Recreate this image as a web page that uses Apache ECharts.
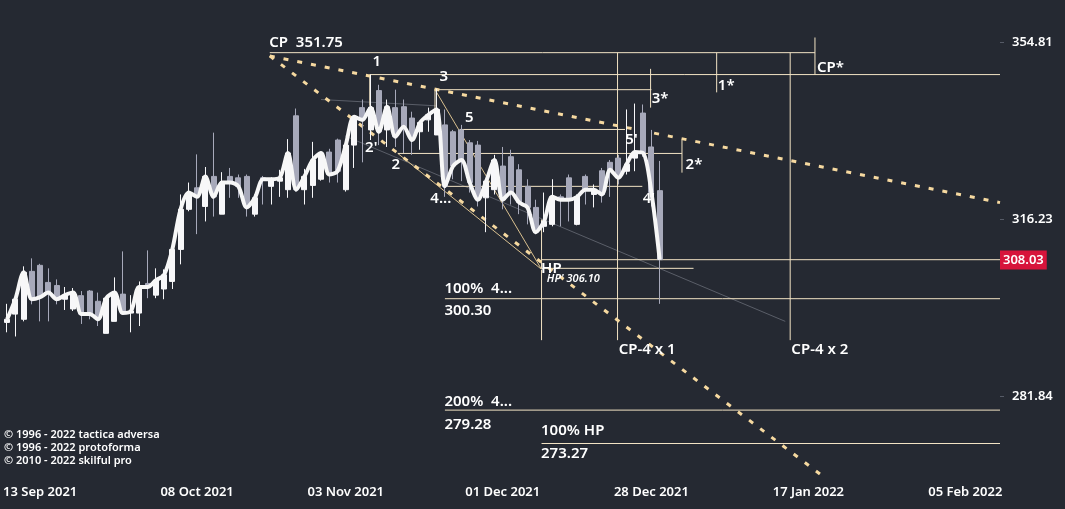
<!DOCTYPE html>
<html><head><meta charset="utf-8">
<script src="https://cdn.jsdelivr.net/npm/echarts@6/dist/echarts.min.js"></script>
<style>html,body{margin:0;padding:0;background:#252932;}#c{width:1065px;height:509px;}</style>
</head><body><div id="c"></div>
<script>
// bar index of first candle (index 0 = 13 Sep 2021)
const startIdx = -4;
// [open, close, low, high]
const ohlc = [
[295.7,296.3,293.8,299.3],[297.3,300.2,293.0,300.8],[296.3,305.5,295.9,306.7],[305.7,300.2,299.2,308.3],
[306.9,300.6,295.9,307.2],[303.5,301.5,295.9,306.3],[302.9,300.2,299.2,304.1],[300.2,301.0,298.1,302.6],
[298.3,301.5,297.9,302.4],[300.9,297.3,295.4,301.8],[301.8,297.3,296.3,302.0],[299.8,296.3,295.0,301.5],
[293.6,300.4,293.6,300.6],[295.9,301.5,295.9,304.5],[301.2,297.5,297.3,309.7],[297.5,297.9,293.8,301.0],
[297.5,302.6,295.0,303.7],[303.3,302.6,300.4,309.9],[301.0,303.9,300.4,306.3],[302.2,305.0,300.2,306.1],
[303.7,310.1,302.2,311.1],[310.1,318.3,307.1,321.4],[318.3,321.8,317.9,323.9],[322.8,320.9,313.2,329.9],
[318.9,325.2,315.8,327.2],[325.2,320.9,316.8,334.6],[317.3,323.9,317.3,326.1],[325.2,323.9,320.7,327.0],
[324.9,323.1,320.7,325.6],[325.2,318.7,316.8,325.6],[317.3,320.7,316.8,321.4],[324.9,324.6,319.3,325.3],
[323.1,324.6,319.3,325.0],[324.2,324.9,320.9,326.6],[322.4,330.2,320.7,333.2],[338.3,322.4,322.0,339.9],
[322.4,325.2,319.3,326.8],[323.3,328.7,320.7,332.6],[324.6,330.2,324.3,330.5],[330.4,325.6,323.9,331.1],
[333.0,326.3,323.9,333.3],[322.4,331.9,322.0,332.3],[331.9,338.1,327.0,338.4],[340.1,337.4,328.2,341.9],
[335.2,340.1,333.0,347.5],[343.9,334.8,331.9,345.2],[335.2,340.3,331.5,341.9],[340.1,333.7,331.5,344.1],
[340.3,335.9,330.2,341.9],[337.8,333.0,329.8,339.2],[334.8,336.8,330.9,337.0],[337.4,338.5,334.8,340.1],
[334.1,339.7,334.1,344.3],[336.3,323.1,320.9,339.7],[334.8,327.4,324.6,335.2],[335.2,328.7,324.2,336.3],
[332.4,323.9,321.8,333.0],[331.9,320.3,318.9,332.8],[320.7,324.2,313.6,324.6],[322.4,328.7,321.4,329.8],
[327.4,320.3,318.3,331.5],[329.4,321.8,319.3,330.9],[326.6,319.7,317.3,327.8],[323.1,318.7,315.2,324.6],
[318.7,313.6,313.2,320.3],[314.8,315.8,313.6,321.8],[315.2,320.9,314.8,324.6],[320.9,320.3,314.8,321.4],
[324.9,320.3,315.8,325.6],[315.2,320.9,315.0,321.4],[325.2,322.4,319.3,325.6],[321.4,322.4,318.7,323.5],
[326.4,321.4,319.7,327.0],[328.2,326.6,320.9,328.7],[329.1,324.9,323.5,329.8],[326.3,327.8,325.6,339.7],
[329.1,330.4,326.3,341.0],[338.9,330.2,329.4,340.8],[331.5,321.8,318.9,335.2],[322.2,308.03,299.3,328.5]
];
const lastPrice = 308.03;
const yTickPrices = [354.81, 316.23, 281.84];
const xTickIdx = [0, 19, 37, 56, 74, 93, 112];
const xTickLabels = ['13 Sep 2021','08 Oct 2021','03 Nov 2021','01 Dec 2021','28 Dec 2021','17 Jan 2022','05 Feb 2022'];
// annotation segments [[idx, price],[idx, price]]
const thinLines = [
 [[27.8,352.5],[93.8,352.5]], [[93.8,356.0],[93.8,347.5]],
 [[39.9,347.5],[116.2,347.5]], [[39.9,347.5],[39.9,340.5]],
 [[47.8,344.1],[74.0,344.1]], [[47.8,344.1],[47.8,339.7]], [[73.9,348.8],[73.9,340.1]],
 [[81.9,352.5],[81.9,343.5]],
 [[50.8,335.3],[70.8,335.3]],
 [[43.3,330.1],[77.7,330.1]], [[77.7,333.0],[77.7,326.0]],
 [[49,323.1],[72.9,323.1]],
 [[60.7,306.3],[79.1,306.3]],
 [[60.7,lastPrice],[116.2,lastPrice]],
 [[49,300.30],[116.2,300.30]],
 [[49,279.28],[116.2,279.28]],
 [[60.7,273.27],[116.2,273.27]],
 [[60.7,316.2],[60.7,292.3]], [[69.9,352.5],[69.9,292.3]], [[90.8,352.5],[90.8,292.3]]
];
const beigeDiag = [ [[47.8,344.1],[60.7,306.1]], [[43.3,330.1],[60.7,306.1]] ];
const greyDiag = [ [[34.0,341.9],[48.0,340.5]], [[36.9,333.9],[90.2,295.9]] ];
const cpDashed = [ [[27.8,351.75],[116.2,319.7]], [[27.8,351.75],[94.4,267.9]] ];
// labels [idx, price, text]
const labels = [
 [27.8,354.6,'CP  351.75'],[40.3,350.2,'1'],[48.4,346.8,'3'],[51.5,337.8,'5'],[39.4,331.3,"2'"],
 [42.6,327.6,'2'],[47.3,320.5,'4...'],[70.9,333.0,"5'"],[73.0,320.3,"4'"],[74.1,341.9,'3*'],
 [82.1,344.8,'1*'],[78.2,327.6,'2*'],[94.1,349.0,'CP*'],[60.7,306.1,'HP'],
 [49,302.2,'100%  4...'],[49,297.9,'300.30'],[49,280.7,'200%  4...'],[49,276.6,'279.28'],
 [60.7,275.5,'100% HP'],[60.7,271.3,'273.27'],[70.1,290.3,'CP-4 x 1'],[91.0,290.3,'CP-4 x 2']
];
const italicLabels = [[61.4,304.1,"HP' 306.10"]];

const L = Math.log;
const segSeries = (segs, style, extra) => segs.map(s => Object.assign({
  type:'line', data:s.map(p=>[p[0],L(p[1])]), symbol:'none', silent:true,
  lineStyle:style, z:3
}, extra||{}));

const candles = ohlc.map((b,i)=>[startIdx+i, L(b[0]), L(b[1]), L(b[2]), L(b[3])]);
const closes = ohlc.map((b,i)=>[startIdx+i, L(b[1])]);
const lblStyle = {show:true,position:[0,0],align:'left',verticalAlign:'middle',formatter:p=>p.data[2],
  color:'#ffffff',opacity:1,textBorderWidth:0,fontSize:15,fontWeight:600,fontFamily:'Noto Sans'};

const chart = echarts.init(document.getElementById('c'));
chart.setOption({
  backgroundColor:'#252932',
  animation:false,
  grid:{left:0,right:65,top:0,bottom:31},
  xAxis:{type:'value',min:-4.84,max:116.2,splitLine:{show:false},axisLine:{show:false,onZero:false},axisTick:{show:false},
    axisLabel:{customValues:xTickIdx,color:'#ffffff',fontSize:13,fontWeight:600,fontFamily:'Noto Sans',margin:8,
      formatter:v=>xTickLabels[xTickIdx.indexOf(Math.round(v))]||''}},
  yAxis:{type:'value',position:'right',min:L(267.2),max:L(364.8),splitLine:{show:false},axisLine:{show:false,onZero:false},
    axisTick:{show:true,customValues:yTickPrices.map(L),length:4,lineStyle:{color:'#555a66'}},
    axisLabel:{customValues:yTickPrices.map(L),color:'#ffffff',fontSize:13,fontWeight:600,fontFamily:'Noto Sans',margin:12,
      formatter:v=>Math.exp(v).toFixed(2)}},
  graphic:[{type:'text',left:4,top:428,style:{text:'© 1996 - 2022 tactica adversa\n© 1996 - 2022 protoforma\n© 2010 - 2022 skilful pro',
    fill:'#ffffff',font:'600 11px "Noto Sans"',lineHeight:13}}],
  series:[
    ...segSeries(greyDiag,{color:'#5a5e68',width:1}),
    ...segSeries(beigeDiag,{color:'#d9c08f',width:1}),
    ...segSeries(thinLines,{color:'#f2e3c4',width:1}),
    ...segSeries(cpDashed,{color:'#f6d9a0',width:3,type:[5,9]}),
    {type:'candlestick',data:candles,encode:{x:0,y:[1,2,3,4]},barWidth:5.5,z:4,
      itemStyle:{color:'#f7f7f9',color0:'#a7a9ba',borderColor:'#f7f7f9',borderColor0:'#a7a9ba',borderWidth:1},
      markLine:{silent:true,symbol:'none',data:[{yAxis:L(lastPrice)}],lineStyle:{color:'transparent',width:1},
        label:{show:true,position:'end',distance:0,formatter:lastPrice.toFixed(2),color:'#fff',backgroundColor:'#d7143b',
          padding:[3,3],fontSize:13,fontWeight:600,fontFamily:'Noto Sans'}}},
    {type:'line',data:closes,smooth:0.3,symbol:'none',z:5,lineStyle:{color:'#f7f7f7',width:4}},
    {type:'scatter',data:labels.map(l=>[l[0],L(l[1]),l[2]]),symbolSize:1,itemStyle:{color:'#252932',opacity:1},z:6,silent:true,
      label:lblStyle},
    {type:'scatter',data:italicLabels.map(l=>[l[0],L(l[1]),l[2]]),symbolSize:1,itemStyle:{color:'#252932',opacity:1},z:6,silent:true,
      label:Object.assign({},lblStyle,{fontSize:11,fontStyle:'italic'})}
  ]
});
</script></body></html>
